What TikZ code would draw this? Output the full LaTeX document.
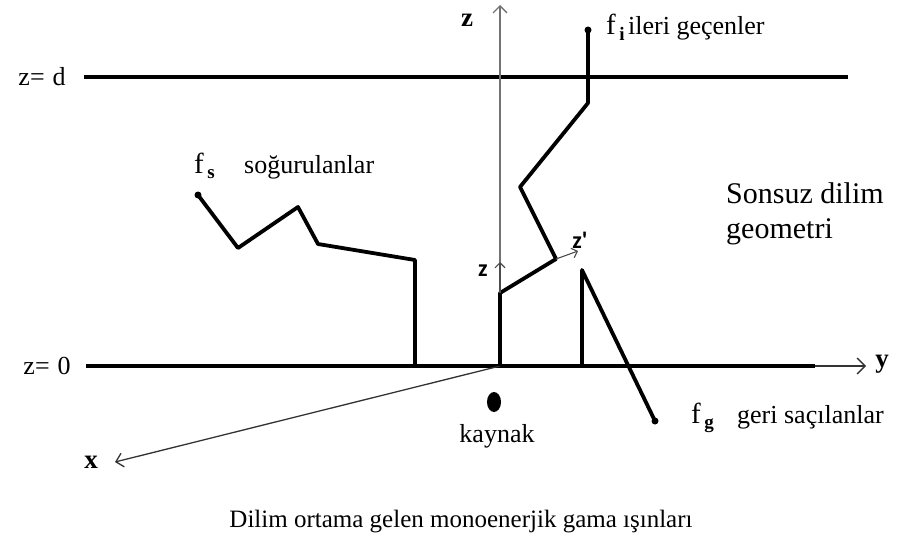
\documentclass[tikz,border=0pt]{standalone}
\usepackage{fontspec}
\setmainfont{Liberation Serif}
\newfontfamily\sanslbl{Carlito}
\usetikzlibrary{arrows.meta,positioning,shapes.geometric}
\tikzset{
  slab/.style={line width=3.8pt},
  track/.style={line width=3.8pt,line join=round},
  axis/.style={line width=1.3pt,black!55,-{Straight Barb[length=7pt,width=14pt,line width=1.3pt]}},
  tip/.style={circle,fill,inner sep=0pt,minimum size=7pt},
  big/.style={font=\fontsize{30}{35}\selectfont,inner sep=0pt,align=left},
  lbl/.style={font=\fontsize{26}{28}\selectfont,inner sep=0pt},
  flbl/.style={font=\fontsize{29}{30}\selectfont,inner sep=0pt,anchor=base west},
  axlbl/.style={font=\fontsize{27}{29}\selectfont\bfseries,inner sep=0pt},
  small/.style={font=\sanslbl\fontsize{24}{26}\selectfont\bfseries,inner sep=0pt},
}
\newcommand{\fsub}[1]{f\hspace{0.12em}\raisebox{-0.45ex}{\fontsize{19}{20}\selectfont\bfseries #1}}

\begin{document}
\begin{tikzpicture}[x=1pt,y=-1pt]
\useasboundingbox (0,0) rectangle (898,543);
% Slab boundaries
\coordinate (dL) at (84,77);
\coordinate (dR) at (848,77);
\coordinate (bL) at (86,366);
\coordinate (bR) at (815,366);
\coordinate (yend) at (866,366);
\draw[slab] (dL) -- (dR);
\draw[slab] (bL) -- (bR);
\draw[line width=1.3pt,black!80,-{Straight Barb[length=8pt,width=16pt,line width=1.3pt]}] (bR) -- (yend);
\node[lbl] (zd) at (42,77) {z=\hspace{0.3em}d};
\node[lbl] (z0) at (47,366) {z=\hspace{0.3em}0};

% Axes
\coordinate (O) at (500,366);
\coordinate (ztop) at (500,5);
\coordinate (xend) at (115,462);
\draw[axis] (O) -- (ztop);
\draw[axis,black!80] (O) -- (xend);
\node[axlbl] (zlab) at (467,20) {z};
\node[axlbl] (ylab) at (882,364) {y};
\node[axlbl] (xlab) at (91,462) {x};

% Source
\node[ellipse,fill,minimum width=14pt,minimum height=20pt,inner sep=0pt] (src) at (494,402) {};
\node[lbl] (kaynak) at (497,436) {kaynak};

% Transmitted track
\coordinate (i1) at (500,293);
\coordinate (i2) at (556,259);
\coordinate (i3) at (520,187);
\coordinate (i4) at (588,103);
\coordinate (i5) at (588,30);
\coordinate (zp) at (578,251);
\coordinate (zs) at (500,262);
\draw[track] (O) -- (i1) -- (i2) -- (i3) -- (i4) -- (i5);
\node[tip] (fi) at (i5) {};
\draw[line width=1.1pt,black!70,-{Straight Barb[length=5pt,width=10pt,line width=1.1pt]}] (i2) -- (zp);
\draw[line width=1.1pt,black!70,-{Straight Barb[length=5pt,width=10pt,line width=1.1pt]}] (i1) -- (zs);
\node[small] (zsmall) at (483,271) {z};
\node[small] (zprime) at (580,240) {z'};
\node[flbl] (fif) at (606,35) {\fsub{i}};
\node[lbl,anchor=base west] (fitext) at (628,35) {ileri geçenler};

% Absorbed track
\coordinate (s1) at (415,366);
\coordinate (s2) at (415,260);
\coordinate (s3) at (318,244);
\coordinate (s4) at (298,207);
\coordinate (s5) at (238,248);
\coordinate (s6) at (198,195);
\draw[track] (s1) -- (s2) -- (s3) -- (s4) -- (s5) -- (s6);
\node[tip] (fs) at (s6) {};
\node[flbl] (fsf) at (194,173) {\fsub{s}};
\node[lbl,anchor=base west] (fstext) at (244,173) {soğurulanlar};

% Back-scattered track
\coordinate (g1) at (582,366);
\coordinate (g2) at (582,270);
\coordinate (g3) at (655,421);
\draw[track] (g1) -- (g2) -- (g3);
\node[tip] (fg) at (g3) {};
\node[flbl] (fgf) at (691,423) {\fsub{g}};
\node[lbl,anchor=base west] (fgtext) at (737,423) {geri saçılanlar};

% Captions
\node[big,anchor=base west] (geo) at (726,203) {Sonsuz dilim};
\node[big,anchor=base west] (geo2) at (726,238) {geometri};
\node[lbl,font=\fontsize{25}{27}\selectfont,anchor=base] (cap) at (461,527) {Dilim ortama gelen monoenerjik gama ışınları};
\end{tikzpicture}
\end{document}
